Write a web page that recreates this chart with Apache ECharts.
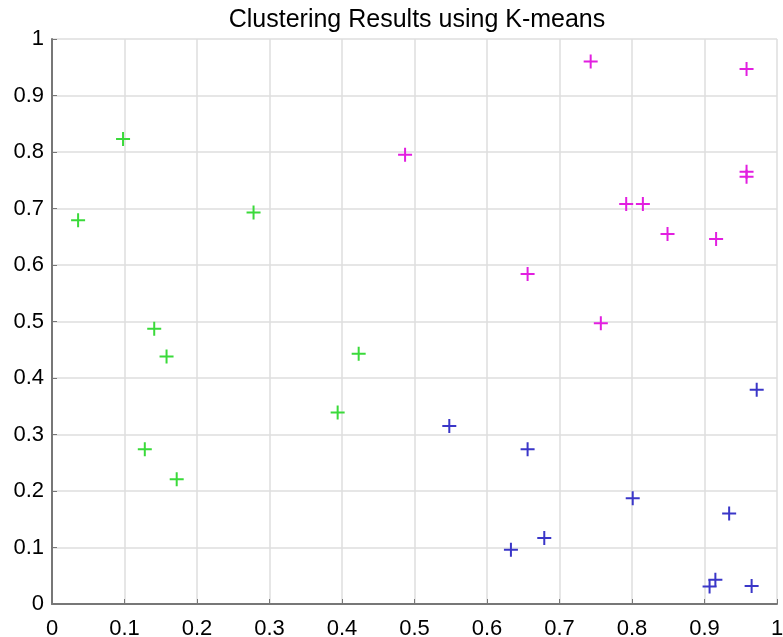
<!DOCTYPE html>
<html>
<head>
<meta charset="utf-8">
<script src="https://cdn.jsdelivr.net/npm/echarts@6/dist/echarts.min.js"></script>
<style>
html,body{margin:0;padding:0;background:#fff;}
#c{width:783px;height:637px;}
</style>
</head>
<body>
<div id="c"></div>
<script>
var titleText = "Clustering Results using K-means";
var greenX = [0.098, 0.036, 0.278, 0.141, 0.158, 0.423, 0.394, 0.128, 0.172];
var greenY = [0.823, 0.679, 0.693, 0.487, 0.438, 0.443, 0.339, 0.274, 0.221];
var magentaX = [0.743, 0.958, 0.958, 0.958, 0.487, 0.792, 0.815, 0.849, 0.916, 0.656, 0.757];
var magentaY = [0.960, 0.947, 0.765, 0.756, 0.795, 0.708, 0.708, 0.655, 0.646, 0.584, 0.497];
var blueX = [0.972, 0.548, 0.656, 0.801, 0.934, 0.679, 0.633, 0.915, 0.907, 0.965];
var blueY = [0.379, 0.315, 0.274, 0.187, 0.160, 0.117, 0.096, 0.043, 0.031, 0.032];

function pairs(xs, ys){ return xs.map(function(x,i){ return [x, ys[i]]; }); }

var plus = 'path://M6,0H8V6H14V8H8V14H6V8H0V6H6Z';
var font = 'Liberation Sans, Arial, sans-serif';

var chart = echarts.init(document.getElementById('c'), null, {renderer:'canvas'});
chart.setOption({
  animation: false,
  backgroundColor: '#fff',
  title: {
    text: titleText, left: 412, top: 3, textAlign: 'center',
    textStyle: {fontFamily: font, fontSize: 25, fontWeight: 'normal', color: '#000'}
  },
  grid: {left: 52, right: 6, top: 39, bottom: 33, containLabel: false, outerBoundsMode: 'none'},
  xAxis: {
    type: 'value', min: 0, max: 1, interval: 0.1,
    axisLine: {show: true, onZero: false, lineStyle: {color: '#777', width: 2}},
    axisTick: {show: true, inside: true, length: 5, lineStyle: {color: '#777', width: 1}},
    axisLabel: {fontFamily: font, fontSize: 22, color: '#000', margin: 14},
    splitLine: {show: true, lineStyle: {color: '#dedede', width: 1.5}}
  },
  yAxis: {
    type: 'value', min: 0, max: 1, interval: 0.1,
    axisLine: {show: true, onZero: false, lineStyle: {color: '#777', width: 2}},
    axisTick: {show: true, inside: true, length: 5, lineStyle: {color: '#777', width: 1}},
    axisLabel: {fontFamily: font, fontSize: 22, color: '#000', margin: 8},
    splitLine: {show: true, lineStyle: {color: '#dedede', width: 1.5}}
  },
  series: [
    {type: 'scatter', data: pairs(greenX, greenY), symbol: plus, symbolSize: 14,
     itemStyle: {color: '#3ada3a', opacity: 1}},
    {type: 'scatter', data: pairs(magentaX, magentaY), symbol: plus, symbolSize: 14,
     itemStyle: {color: '#e21fe0', opacity: 1}},
    {type: 'scatter', data: pairs(blueX, blueY), symbol: plus, symbolSize: 14,
     itemStyle: {color: '#3a36c8', opacity: 1}}
  ]
});
</script>
</body>
</html>
